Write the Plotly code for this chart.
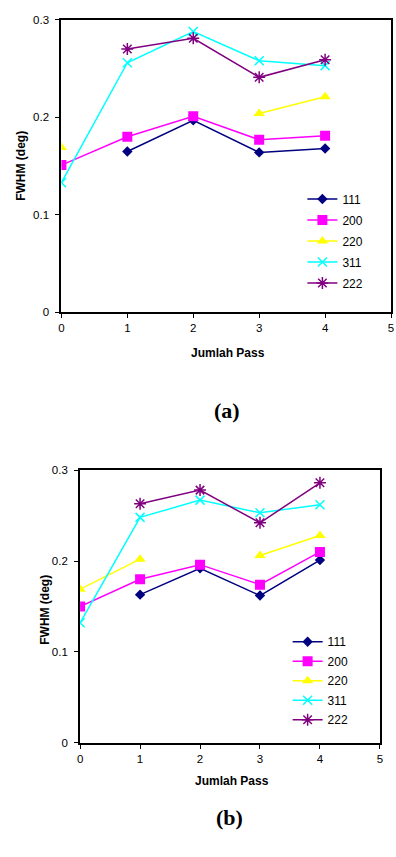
import plotly.graph_objects as go

passes = [0, 1, 2, 3, 4]
series_names = ["111", "200", "220", "311", "222"]

# Panel (a)
a_111 = [None, 0.165, 0.197, 0.164, 0.168]
a_200 = [0.151, 0.180, 0.201, 0.177, 0.181]
a_220 = [0.169, None, None, 0.204, 0.221]
a_311 = [0.133, 0.256, 0.288, 0.258, 0.253]
a_222 = [None, 0.270, 0.281, 0.241, 0.259]

# Panel (b)
b_111 = [None, 0.163, 0.192, 0.162, 0.201]
b_200 = [0.150, 0.180, 0.196, 0.174, 0.210]
b_220 = [0.169, 0.202, None, 0.206, 0.228]
b_311 = [0.132, 0.248, 0.267, 0.253, 0.262]
b_222 = [None, 0.263, 0.278, 0.242, 0.286]

x_ticks = [0, 1, 2, 3, 4, 5]
y_ticks = [0, 0.1, 0.2, 0.3]

colors = ["#000080", "#FF00FF", "#FFFF00", "#00FFFF", "#800080"]
symbols = ["diamond", "square", "triangle-up", "x-thin-open", "asterisk-open"]
msizes = [8, 10, 10, 9, 10]

W, H = 396, 857

fig = go.Figure()

def add_panel(data, xa, ya, legend):
    for i, (name, vals) in enumerate(zip(series_names, data)):
        open_sym = symbols[i].endswith("open")
        fig.add_trace(go.Scatter(
            x=passes, y=vals, name=name, mode="lines+markers",
            xaxis=xa, yaxis=ya, legend=legend,
            legendgroup=legend + name,
            connectgaps=False,
            line=dict(color=colors[i], width=1.5),
            marker=dict(symbol=symbols[i], size=msizes[i], color=colors[i],
                        line=dict(color=colors[i], width=1.5 if open_sym else 0)),
        ))

add_panel([a_111, a_200, a_220, a_311, a_222], "x", "y", "legend")
add_panel([b_111, b_200, b_220, b_311, b_222], "x2", "y2", "legend2")

tick_font = dict(family="Liberation Sans, Arial, sans-serif", size=11.5, color="black")
axis_common = dict(showline=True, mirror=True, linecolor="black", linewidth=2,
                   ticks="outside", ticklen=4, tickcolor="black", tickwidth=1,
                   showgrid=False, zeroline=False, tickfont=tick_font)

fig.update_layout(
    width=W, height=H,
    margin=dict(l=0, r=0, t=0, b=0),
    paper_bgcolor="white", plot_bgcolor="white",
    xaxis=dict(domain=[59.3 / W, 394 / W], range=[0, 5], tickvals=x_ticks,
               anchor="y", **axis_common),
    yaxis=dict(domain=[1 - 310.7 / H, 1 - 14 / H], range=[0, 0.3], tickvals=y_ticks,
               anchor="x", ticklabelstandoff=4, **axis_common),
    xaxis2=dict(domain=[78.3 / W, 382.7 / W], range=[0, 5], tickvals=x_ticks,
                anchor="y2", **axis_common),
    yaxis2=dict(domain=[1 - 747.3 / H, 1 - 470.7 / H], range=[0, 0.3], tickvals=y_ticks,
                anchor="x2", ticklabelstandoff=4, **axis_common),
    legend=dict(x=304 / W, y=1 - 181 / H, xanchor="left", yanchor="top",
                bgcolor="rgba(0,0,0,0)", tracegroupgap=2,
                font=dict(family="Liberation Sans, Arial, sans-serif", size=12, color="black")),
    legend2=dict(x=289 / W, y=1 - 630 / H, xanchor="left", yanchor="top",
                 bgcolor="rgba(0,0,0,0)", tracegroupgap=0.5,
                 font=dict(family="Liberation Sans, Arial, sans-serif", size=12, color="black")),
    showlegend=True,
)

title_font = dict(family="Liberation Sans, Arial, sans-serif", size=12, color="black")
label_font = dict(family="Liberation Serif, Times New Roman, serif", size=22, color="black")

annotations = [
    dict(text="<b>Jumlah Pass</b>", x=228 / W, y=1 - 352 / H, font=title_font),
    dict(text="<b>FWHM (deg)</b>", x=18.7 / W, y=1 - 161.7 / H, textangle=-90, font=title_font),
    dict(text="<b>(a)</b>", x=227 / W, y=1 - 410 / H, font=label_font),
    dict(text="<b>Jumlah Pass</b>", x=233 / W, y=1 - 786 / H, font=title_font),
    dict(text="<b>FWHM (deg)</b>", x=43 / W, y=1 - 612 / H, textangle=-90, font=title_font),
    dict(text="<b>(b)</b>", x=230 / W, y=1 - 823 / H, font=label_font),
]
for a in annotations:
    a.update(xref="paper", yref="paper", showarrow=False, xanchor="center", yanchor="middle")
fig.update_layout(annotations=annotations)

fig.write_html("out.html",
               config={"displayModeBar": False},
               post_script="document.body.style.margin='0';document.body.style.padding='0';")
